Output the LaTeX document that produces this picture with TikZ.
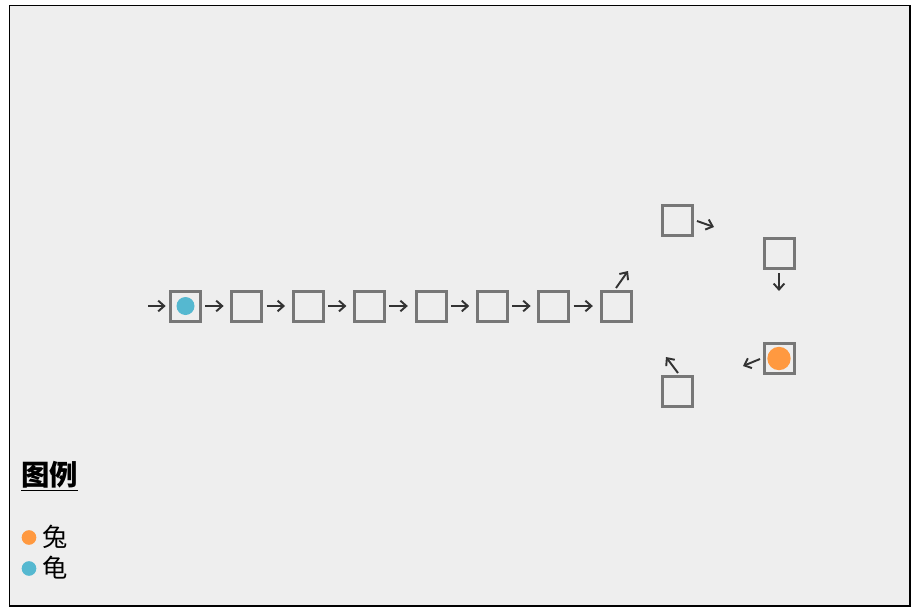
\documentclass[tikz,border=0pt]{standalone}
\usepackage{fontspec}
\newfontfamily\cjk{Noto Sans CJK SC}
\usetikzlibrary{arrows.meta}
\definecolor{bgc}{HTML}{EEEEEE}
\definecolor{boxc}{HTML}{777777}
\definecolor{arrc}{HTML}{333333}
\definecolor{turtle}{HTML}{55B8D0}
\definecolor{hare}{HTML}{FF9940}
\tikzset{
  cell/.style={draw=boxc, line width=2.25pt, minimum size=22.5pt, inner sep=0pt, fill=bgc},
  arr/.style={draw=arrc, line width=1.45pt, -{Straight Barb[length=4.5pt,width=8pt]}},
  dot/.style={circle, inner sep=0pt},
  lbl/.style={font=\cjk\fontsize{19pt}{22pt}\selectfont, anchor=west, inner sep=0pt}
}
\begin{document}
\begin{tikzpicture}[x=0.75pt,y=-0.75pt]
\useasboundingbox (0,0) rectangle (917,614);
\fill[white] (0,0) rectangle (917,614);
\draw[black, line width=0.9pt, fill=bgc] (9.5,5.5) rectangle (910,606);
% chain
\foreach \i/\x in {1/185.5,2/246.8,3/308.2,4/369.6,5/431,6/492.4,7/553.8,8/616} {
  \node[cell] (b\i) at (\x,306) {};
}
\coordinate (s0) at (148,306);
\draw[arr] (s0) -- ([xshift=-2.5pt]b1.west);
\foreach \i [evaluate=\i as \j using int(\i+1)] in {1,...,7} {
  \draw[arr] ([xshift=2.5pt]b\i.east) -- ([xshift=-5pt]b\j.west);
}
% cycle
\node[cell] (c1) at (677.5,220.5) {};
\node[cell] (c2) at (779,253.5) {};
\node[cell] (c3) at (779,358.5) {};
\node[cell] (c4) at (677.5,391.5) {};
\coordinate (a1s) at (616,288); \coordinate (a1e) at (628,271);
\coordinate (a2s) at (697,221); \coordinate (a2e) at (714,227);
\coordinate (a3s) at (779,273); \coordinate (a3e) at (779,291);
\coordinate (a4s) at (760,359); \coordinate (a4e) at (743,366);
\coordinate (a5s) at (678,373); \coordinate (a5e) at (666,357);
\draw[arr] (a1s) -- (a1e);
\draw[arr] (a2s) -- (a2e);
\draw[arr] (a3s) -- (a3e);
\draw[arr] (a4s) -- (a4e);
\draw[arr] (a5s) -- (a5e);
% tokens
\node[dot, fill=turtle, minimum size=13.5pt] (tk) at (b1) {};
\node[dot, fill=hare, minimum size=17.5pt] (hr) at (c3) {};
% legend
\node[lbl, font=\cjk\bfseries\fontsize{21.3pt}{24pt}\selectfont] (lg) at (21,476) {\underline{图例}};
\node[dot, fill=hare, minimum size=11pt] (ld1) at (29,537.5) {};
\node[lbl] (lt1) at (42,537) {兔};
\node[dot, fill=turtle, minimum size=11pt] (ld2) at (29,568.5) {};
\node[lbl] (lt2) at (42,568) {龟};
\end{tikzpicture}
\end{document}
